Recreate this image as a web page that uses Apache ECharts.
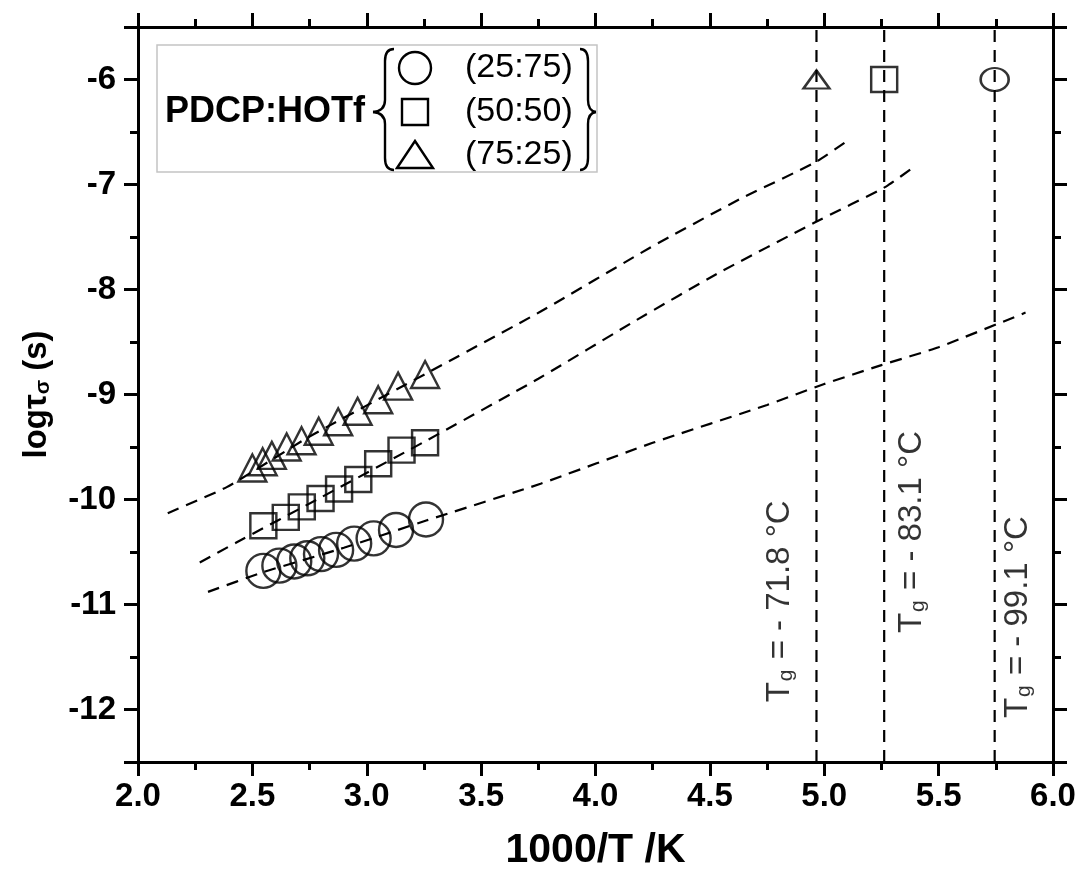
<!DOCTYPE html>
<html>
<head>
<meta charset="utf-8">
<script src="https://cdn.jsdelivr.net/npm/echarts@6/dist/echarts.min.js"></script>
<style>
  html, body { margin: 0; padding: 0; background: #fff; }
  #chart { width: 1084px; height: 876px; }
</style>
</head>
<body>
<div id="chart"></div>
<script>
const FONT = '"Liberation Sans", Arial, Helvetica, sans-serif';

// Compositions PDCP:HOTf
const compositions = ['(25:75)', '(50:50)', '(75:25)'];

// Relaxation times: x = 1000/T (K^-1), y = log tau_sigma (s)
const x25 = [2.548, 2.618, 2.683, 2.740, 2.800, 2.866, 2.945, 3.030, 3.128, 3.259];
const y25 = [-10.68, -10.63, -10.59, -10.56, -10.52, -10.48, -10.42, -10.37, -10.29, -10.19];

const x50 = [2.548, 2.646, 2.716, 2.798, 2.879, 2.963, 3.050, 3.152, 3.255];
const y50 = [-10.25, -10.17, -10.07, -9.99, -9.90, -9.81, -9.66, -9.53, -9.46];

const x75 = [2.500, 2.545, 2.585, 2.650, 2.715, 2.790, 2.875, 2.960, 3.050, 3.137, 3.255];
const y75 = [-9.70, -9.64, -9.58, -9.50, -9.44, -9.35, -9.26, -9.16, -9.05, -8.92, -8.81];

// VFT fit curves extrapolated to low temperature
const fit25X = [2.306, 2.55, 2.90, 3.26, 3.76, 4.25, 4.75, 5.00, 5.25, 5.50, 5.88];
const fit25Y = [-10.88, -10.69, -10.46, -10.20, -9.85, -9.46, -9.10, -8.90, -8.72, -8.55, -8.22];

const fit50X = [2.27, 2.43, 2.80, 3.26, 3.75, 4.18, 4.54, 4.96, 5.27, 5.40];
const fit50Y = [-10.60, -10.41, -9.98, -9.44, -8.85, -8.29, -7.84, -7.36, -7.02, -6.82];

const fit75X = [2.13, 2.39, 2.75, 3.26, 3.76, 4.24, 4.63, 4.96, 5.11];
const fit75Y = [-10.13, -9.88, -9.40, -8.80, -8.21, -7.60, -7.14, -6.79, -6.57];

// Glass transition temperatures as 1000/Tg and as labels
const tgX = [5.745, 5.262, 4.966];
const tgLevel = [-6, -6, -6];
const tgText = ['- 99.1', '- 83.1', '- 71.8'];

// Axis ticks
const xTicks = { min: 2.0, max: 6.0, step: 0.5 };
const yTicks = { min: -12.5, max: -5.5 };

const zip = (a, b) => a.map((v, i) => [v, b[i]]);

const markerStyle = { color: 'transparent', borderColor: '#000', borderWidth: 2.4 };
const dashStyle = { color: '#000', width: 2.2, type: [12, 8] };
const symbols = ['circle', 'rect', 'triangle'];

const axisLineStyle = { color: '#000', width: 3 };
const tickStyle = { color: '#000', width: 3 };

function xAxisDef(pos, showLabels) {
  return {
    type: 'value', position: pos, min: xTicks.min, max: xTicks.max, interval: xTicks.step,
    axisLine: { show: true, onZero: false, lineStyle: axisLineStyle },
    axisTick: { show: true, inside: false, length: 14, lineStyle: tickStyle },
    minorTick: { show: true, splitNumber: 2, length: 8, lineStyle: tickStyle },
    splitLine: { show: false },
    axisLabel: {
      show: showLabels, margin: 18, color: '#000',
      fontFamily: FONT, fontWeight: 'bold', fontSize: 33,
      formatter: v => v.toFixed(1)
    },
    name: showLabels ? '1000/T /K' : '',
    nameLocation: 'middle', nameGap: 68,
    nameTextStyle: { color: '#000', fontFamily: FONT, fontWeight: 'bold', fontSize: 41 }
  };
}

function yAxisDef(pos, showLabels) {
  return {
    type: 'value', position: pos, min: yTicks.min, max: yTicks.max, splitNumber: 7,
    axisLine: { show: true, onZero: false, lineStyle: axisLineStyle },
    axisTick: { show: true, inside: false, length: 14, lineStyle: tickStyle },
    minorTick: { show: true, splitNumber: 2, length: 8, lineStyle: tickStyle },
    splitLine: { show: false },
    axisLabel: {
      show: showLabels, margin: 22, color: '#000',
      fontFamily: FONT, fontWeight: 'bold', fontSize: 33,
      formatter: v => (Number.isInteger(v) ? String(v) : '')
    },
    name: showLabels ? '{b|logτ}{s|σ}{b| (s)}' : '',
    nameLocation: 'middle', nameGap: 84, nameRotate: 90,
    nameTextStyle: {
      color: '#000',
      rich: {
        b: { fontFamily: FONT, fontWeight: 'bold', fontSize: 33, lineHeight: 35, color: '#000' },
        s: { fontFamily: FONT, fontWeight: 'bold', fontSize: 21, lineHeight: 21, padding: [18, 0, 0, 0], verticalAlign: 'bottom', color: '#000' }
      }
    }
  };
}

const series = [];

// fitted curves
[[fit25X, fit25Y], [fit50X, fit50Y], [fit75X, fit75Y]].forEach(([fx, fy]) => {
  series.push({
    type: 'line', data: zip(fx, fy), showSymbol: false, smooth: 0.15,
    lineStyle: dashStyle, silent: true, z: 2
  });
});

// vertical Tg lines
tgX.forEach(x => {
  series.push({
    type: 'line', data: [[x, yTicks.min], [x, yTicks.max]], showSymbol: false,
    lineStyle: dashStyle, silent: true, z: 2
  });
});

// measured points
[[x25, y25], [x50, y50], [x75, y75]].forEach(([dx, dy], i) => {
  series.push({
    type: 'scatter', name: compositions[i], data: zip(dx, dy),
    symbol: symbols[i],
    symbolSize: [34, [26, 25], [28, 27]][i],
    itemStyle: markerStyle, z: 3
  });
});

// markers on the Tg lines
const tgSymbols = ['circle', 'rect', 'triangle'];
const tgSizes = [[28, 23], [26, 25], [26, 18]];
series.push({
  type: 'scatter',
  data: tgX.map((x, i) => ({ value: [x, tgLevel[i]], symbol: tgSymbols[i], symbolSize: tgSizes[i] })),
  itemStyle: markerStyle, z: 3
});

// rotated Tg labels next to each line
const tgLabelAt = [[5.845, -11.12], [5.384, -10.31], [4.806, -10.97]];
series.push({
  type: 'scatter', symbolSize: 0, silent: true, z: 4,
  data: tgLabelAt.map(p => ({ value: p })),
  label: {
    show: true, position: 'inside', rotate: 90,
    formatter: p => '{m|T}{s|g}{m| = ' + tgText[p.dataIndex] + ' °C}',
    rich: {
      m: { fontFamily: FONT, fontSize: 33, lineHeight: 34, color: '#000' },
      s: { fontFamily: FONT, fontSize: 21, lineHeight: 21, padding: [20, 1, 0, 1], verticalAlign: 'bottom', color: '#000' }
    }
  }
});

// curly brace built from quadratic curves and straight segments
function brace(xEnd, xStem, xTip, yTop, yMid, yBot) {
  const st = { stroke: '#000', lineWidth: 2.4, fill: null };
  const r = 12;
  const q = (x1, y1, cx, cy, x2, y2) => ({ type: 'bezierCurve', z: 11,
    shape: { x1, y1, cpx1: cx, cpy1: cy, x2, y2 }, style: st });
  const l = (x1, y1, x2, y2) => ({ type: 'line', z: 11, shape: { x1, y1, x2, y2 }, style: st });
  return [
    q(xEnd, yTop, xStem, yTop, xStem, yTop + r),
    l(xStem, yTop + r, xStem, yMid - r),
    q(xStem, yMid - r, xStem, yMid - 1, xTip, yMid),
    q(xTip, yMid, xStem, yMid + 1, xStem, yMid + r),
    l(xStem, yMid + r, xStem, yBot - r),
    q(xStem, yBot - r, xStem, yBot, xEnd, yBot)
  ];
}

// legend block: box, group label, braces, symbols and names
const legendRows = [68, 112, 155];
const graphic = [
  { type: 'rect', shape: { x: 157, y: 45, width: 440, height: 127 },
    style: { fill: '#fff', stroke: '#c4c4c4', lineWidth: 1.5 }, z: 10 },
  { type: 'text', x: 165, y: 112, z: 11,
    style: { text: 'PDCP:HOTf', fontFamily: FONT, fontWeight: 'bold', fontSize: 36, fill: '#000', verticalAlign: 'middle', align: 'left' } },
  { type: 'circle', z: 11, shape: { cx: 415, cy: legendRows[0], r: 16 },
    style: { fill: null, stroke: '#000', lineWidth: 2.4 } },
  { type: 'rect', z: 11, shape: { x: 402, y: legendRows[1] - 13, width: 26, height: 26 },
    style: { fill: null, stroke: '#000', lineWidth: 2.4 } },
  { type: 'polygon', z: 11, shape: { points: [[397, legendRows[2] + 13], [415, legendRows[2] - 14], [433, legendRows[2] + 13]] },
    style: { fill: null, stroke: '#000', lineWidth: 2.4 } }
]
  .concat(brace(394, 385, 373, 49, 112, 170))
  .concat(brace(580, 588, 596, 49, 112, 170))
  .concat(compositions.map((name, i) => ({
    type: 'text', x: 465, y: legendRows[i], z: 11,
    style: { text: name, fontFamily: FONT, fontSize: 34, fill: '#000', verticalAlign: 'middle', align: 'left' }
  })));

const chart = echarts.init(document.getElementById('chart'), null, { renderer: 'canvas' });
chart.setOption({
  animation: false,
  backgroundColor: '#fff',
  grid: { left: 138, right: 31, top: 27, bottom: 113, containLabel: false },
  xAxis: [xAxisDef('bottom', true), xAxisDef('top', false)],
  yAxis: [yAxisDef('left', true), yAxisDef('right', false)],
  graphic: graphic,
  series: series
});
</script>
</body>
</html>
